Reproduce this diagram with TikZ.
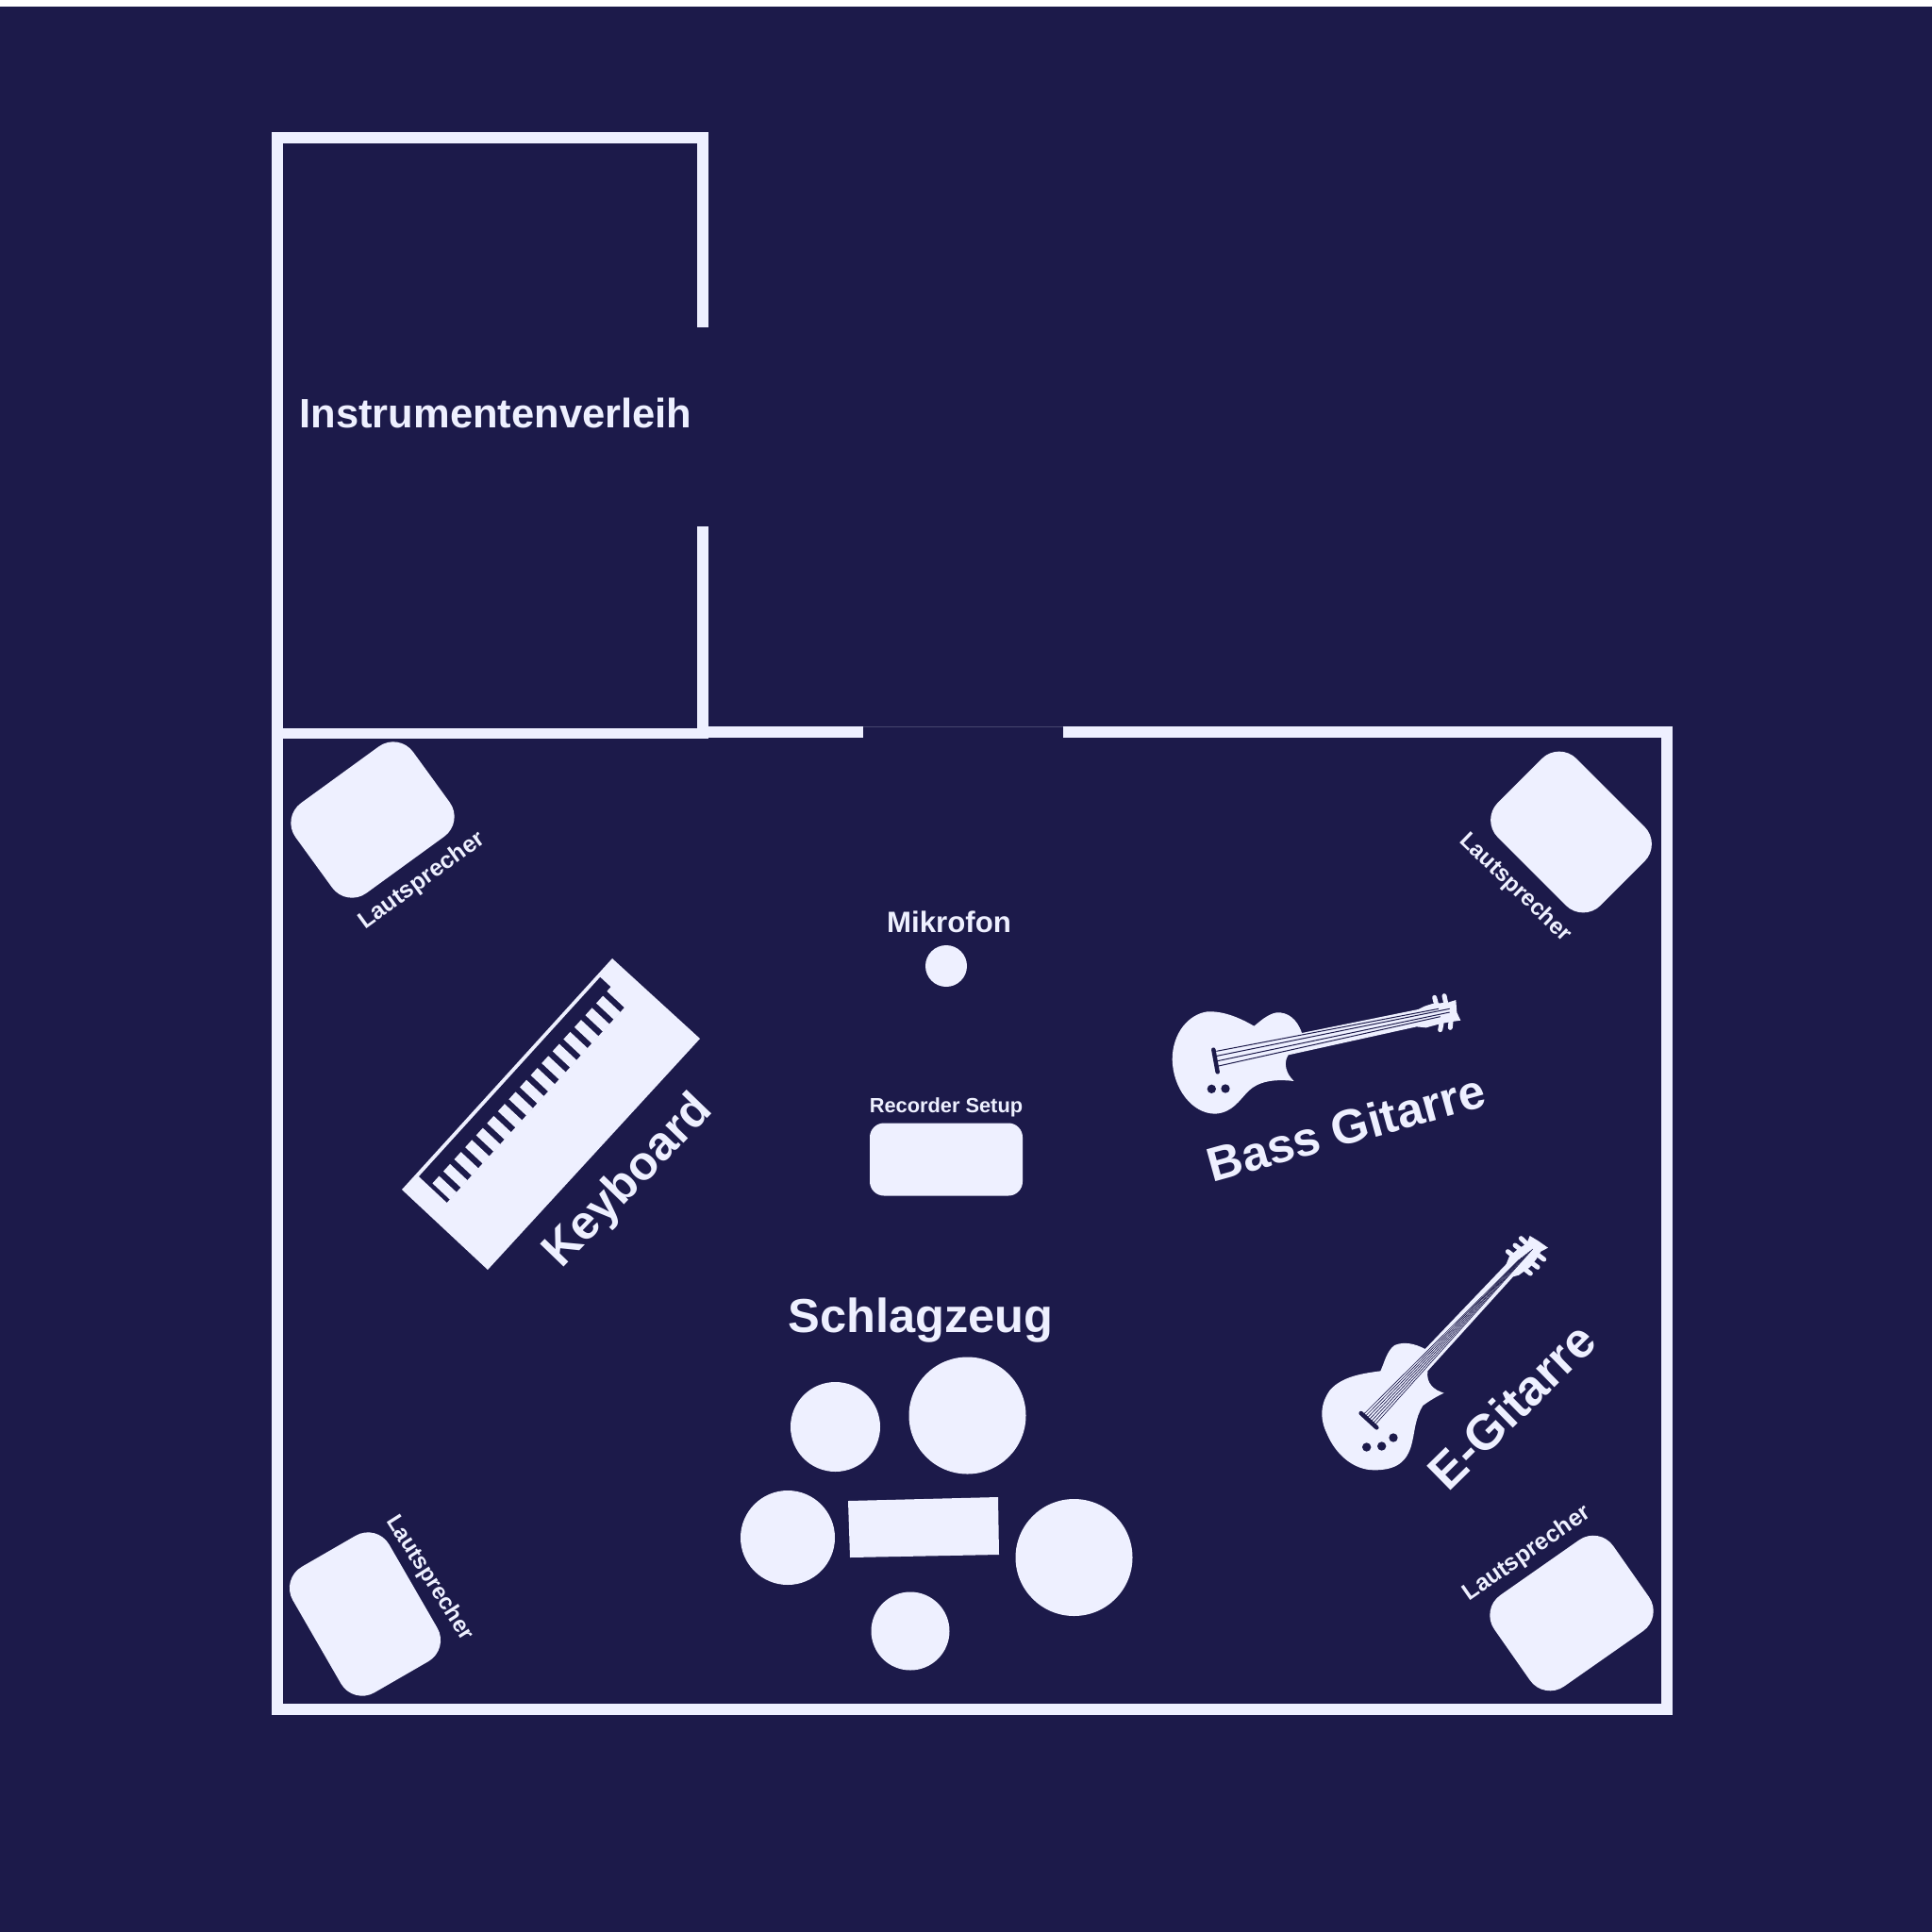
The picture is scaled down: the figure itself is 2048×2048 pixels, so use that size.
\documentclass[tikz,border=0pt]{standalone}
\usepackage{fontspec}
\setmainfont{Liberation Sans}
\definecolor{bgc}{HTML}{1C1A4A}
\definecolor{fgc}{HTML}{EEF0FF}
\newcommand{\fsz}[1]{\fontsize{#1}{#1}\selectfont\bfseries}
\tikzset{
  wallbar/.style={fill=fgc,draw=none},
  speaker/.style={fill=fgc,draw=none,rectangle,rounded corners=26pt,minimum width=154pt,minimum height=118pt,inner sep=0pt},
  drum/.style={fill=fgc,draw=none,circle,inner sep=0pt},
  label/.style={text=fgc,inner sep=0pt},
  gbody/.style={fill=fgc,draw=none},
  gstring/.style={draw=bgc,line width=1pt},
  gbridge/.style={draw=bgc,line width=4.5pt,line cap=round},
  gpeg/.style={draw=fgc,line width=5pt,line cap=round},
}
\begin{document}
\begin{tikzpicture}[x=1pt,y=-1pt]
\useasboundingbox (0,0) rectangle (2048,2048);
\fill[white] (0,0) rectangle (2048,7);
\fill[bgc] (0,7) rectangle (2048,2048);
% walls
\fill[wallbar] (288,140) rectangle (751,152);
\fill[wallbar] (288,140) rectangle (300,1818);
\fill[wallbar] (739,140) rectangle (751,347);
\fill[wallbar] (739,558) rectangle (751,783);
\fill[wallbar] (288,772) rectangle (751,783);
\fill[wallbar] (739,770) rectangle (915,782);
\fill[wallbar] (1127,770) rectangle (1773,782);
\fill[wallbar] (1761,770) rectangle (1773,1818);
\fill[wallbar] (288,1806) rectangle (1773,1818);
\draw[color=bgc!80!fgc,line width=0.6pt] (915,770.3) -- (1127,770.3);
% speakers
\node[speaker,rotate=36] (sptl) at (395,869) {};
\node[speaker,rotate=-45] (sptr) at (1665.5,882) {};
\node[speaker,rotate=-60] (spbl) at (387,1711) {};
\node[speaker,rotate=35] (spbr) at (1666,1710) {};
% speaker labels
\node[label,font=\fsz{25},rotate=36] (ltl) at (447.5,934) {Lautsprecher};
\node[label,font=\fsz{24.3},rotate=-44] (ltr) at (1606,941) {Lautsprecher};
\node[label,font=\fsz{24},rotate=-57.6] (lbl) at (455,1673) {Lautsprecher};
\node[label,font=\fsz{25},rotate=34.7] (lbr) at (1619,1647) {Lautsprecher};
% room labels
\node[label,font=\fsz{43.5}] (inst) at (525.5,438) {Instrumentenverleih};
\node[label,font=\fsz{31.2}] (mik) at (1006,977) {Mikrofon};
\node[drum,minimum size=44pt] (mikc) at (1003,1024) {};
\node[label,font=\fsz{21.8}] (rec) at (1003,1173.5) {Recorder Setup};
\node[fill=fgc,draw=none,rectangle,rounded corners=15pt,minimum width=162pt,minimum height=77pt,inner sep=0pt] (recb) at (1003,1229) {};
\node[label,font=\fsz{50.6}] (schl) at (976,1400) {Schlagzeug};
% drums
\node[drum,minimum size=95pt] (d1) at (885.5,1512.5) {};
\node[drum,minimum size=124pt] (d2) at (1025.5,1500.5) {};
\node[drum,minimum size=100pt] (d3) at (835,1630) {};
\node[drum,minimum size=124pt] (d4) at (1138.5,1651) {};
\node[drum,minimum size=83pt] (d5) at (965,1729) {};
\fill[fgc] (899,1591) -- (1058,1587) -- (1059,1648) -- (901,1651) -- cycle;
% keyboard
\fill[fgc] (649,1016) -- (742,1101) -- (517,1346) -- (426,1261) -- cycle;
\begin{scope}[shift={(426,1261)},x={(.673pt,.740pt)},y={(.731pt,-.683pt)}]
  \fill[bgc] (22.5,4) -- (308,4) -- (308,44.5) -- (22.5,44.5) -- cycle;
  \foreach \i in {0,...,16}{
    \pgfmathsetmacro{\sa}{27+17.2*\i}
    \pgfmathsetmacro{\sb}{\sa+10.5}
    \fill[fgc] (\sa,19.5) -- (\sb,19.5) -- (\sb,45) -- (\sa,45) -- cycle;
  }
  \fill[fgc] (302,19.5) -- (319,19.5) -- (319,45) -- (302,45) -- cycle;
\end{scope}
\node[label,font=\fsz{50.5},rotate=46] (kb) at (667,1253) {Keyboard};
% bass guitar
\begin{scope}[shift={(1200,1020)},scale=1/3]
  \foreach \a/\b/\c/\d in {962/112/968/135, 993/107/998/130, 980/215/984/195, 1012/208/1014/188}
    \draw[gpeg] (\a,\b) -- (\c,\d);
  \fill[gbody] (540,225) .. controls (525,180) and (495,158) .. (460,160)
    .. controls (430,165) and (405,190) .. (388,203)
    .. controls (340,175) and (290,155) .. (240,157)
    .. controls (180,165) and (128,225) .. (128,310)
    .. controls (130,400) and (190,482) .. (265,482)
    .. controls (320,478) and (340,440) .. (370,410)
    .. controls (400,380) and (450,370) .. (515,378)
    .. controls (490,355) and (480,320) .. (497,295)
    -- (905,205) -- (935,208) -- (975,197) -- (1010,190) -- (1045,185)
    -- (1033,160) -- (1030,120) -- (1005,128) -- (955,132) -- (930,140) -- (910,150) -- cycle;
  \draw[gstring] (268,283) -- (975,148);
  \draw[gstring] (270,298) -- (1010,148);
  \draw[gstring] (272,314) -- (1010,159);
  \draw[gstring] (275,330) -- (980,173);
  \draw[gbridge] (259,278) -- (272,349);
  \fill[bgc] (253,403) circle (14);
  \fill[bgc] (297,402) circle (14);
\end{scope}
\node[label,font=\fsz{51},rotate=15.5] (bass) at (1427,1195) {Bass Gitarre};
% electric guitar
\begin{scope}[shift={(1380,1290)},scale=1/3]
  \foreach \a/\b/\c/\d in {697/68/715/85, 678/90/698/105, 655/110/678/128, 770/135/750/120, 750/160/730/145, 727/180/708/165}
    \draw[gpeg] (\a,\b) -- (\c,\d);
  \fill[gbody] (392,420) .. controls (360,403) and (325,395) .. (295,408)
    .. controls (270,425) and (262,465) .. (250,490)
    .. controls (200,497) and (130,505) .. (90,550)
    .. controls (60,590) and (55,640) .. (80,690)
    .. controls (105,750) and (160,805) .. (230,805)
    .. controls (300,805) and (335,780) .. (350,720)
    .. controls (360,680) and (360,640) .. (385,600)
    .. controls (405,585) and (430,570) .. (452,560)
    .. controls (420,550) and (395,530) .. (400,490)
    -- (672,190) -- (690,185) -- (725,160) -- (745,135) -- (760,110) -- (783,98)
    -- (750,75) -- (725,60) -- (715,85) -- (690,100) -- (660,125) -- (650,150) -- cycle;
  \foreach \i in {0,...,6}{
    \draw[gstring,line width=0.65pt] ({197+6*\i},{627+5.6*\i}) -- ({692+7*\i},{135-5.5*\i});
  }
  \draw[gbridge] (188,624) -- (238,670);
  \fill[bgc] (206,732) circle (14);
  \fill[bgc] (254,729) circle (14);
  \fill[bgc] (291,702) circle (14);
\end{scope}
\node[label,font=\fsz{52.5},rotate=44.5] (egit) at (1602,1490) {E-Gitarre};
\end{tikzpicture}
\end{document}
